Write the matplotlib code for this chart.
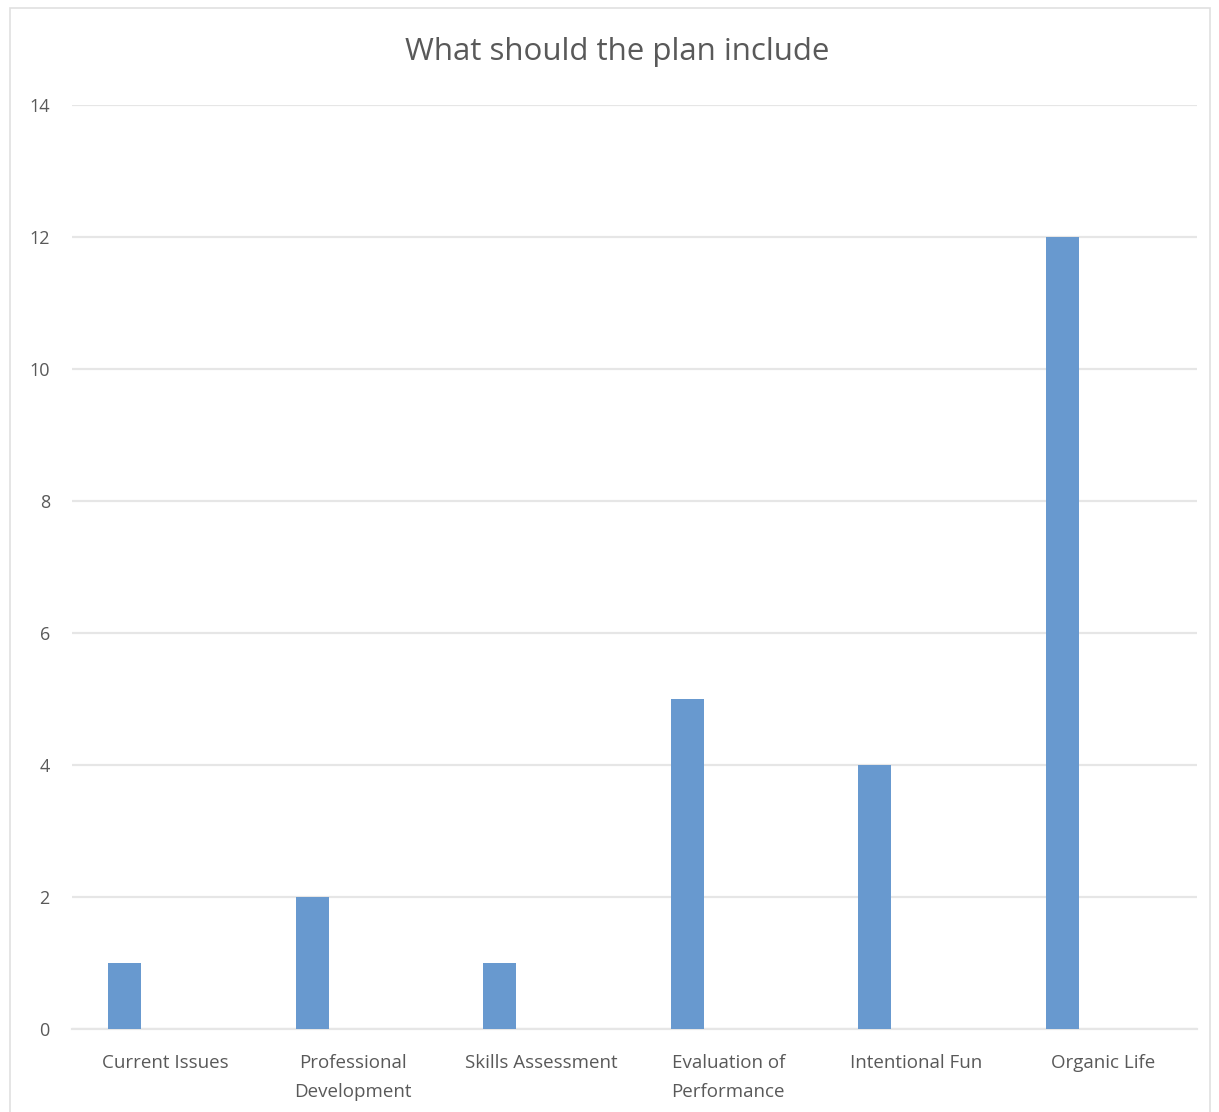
import numpy as np
import matplotlib.pyplot as plt
from matplotlib.patches import Rectangle

# data
categories = ["Current Issues", "Professional\nDevelopment", "Skills Assessment",
              "Evaluation of\nPerformance", "Intentional Fun", "Organic Life"]
counts = [1, 2, 1, 5, 4, 12]
yticks = [0, 2, 4, 6, 8, 10, 12, 14]

plt.rcParams['font.family'] = ['Open Sans', 'DejaVu Sans']

fig = plt.figure(figsize=(12.19, 11.12), dpi=100)
ax = fig.add_axes([0.0591, 0.0746, 0.923, 0.831])

# outer chart frame
fig.patches.append(Rectangle((10/1219, -0.01), 1200/1219, 1 - 8/1112 + 0.01,
                             transform=fig.transFigure, fill=False,
                             edgecolor='#e0e0e0', linewidth=1.2))

x = np.arange(len(categories))
ax.bar(x - 0.22, counts, width=0.176, color='#6899cf', zorder=3)

ax.set_xlim(-0.5, len(categories) - 0.5)
ax.set_ylim(0, 14)
ax.set_yticks(yticks)
ax.set_xticks(x)
ax.set_xticklabels(categories, fontsize=13.5, color='#595959', linespacing=1.75)
ax.tick_params(axis='y', labelsize=13, colors='#595959', length=0, pad=16)
ax.tick_params(axis='x', length=0, pad=18)

ax.grid(axis='y', color='#e6e6e6', linewidth=1.6, zorder=0)
for s in ['top', 'right', 'left']:
    ax.spines[s].set_visible(False)
ax.spines['bottom'].set_color('#e6e6e6')
ax.spines['bottom'].set_linewidth(1.6)

fig.text(0.506, 0.953, "What should the plan include", ha='center', va='center',
         fontsize=22.5, color='#595959')

fig.savefig('out.png', dpi=100)
